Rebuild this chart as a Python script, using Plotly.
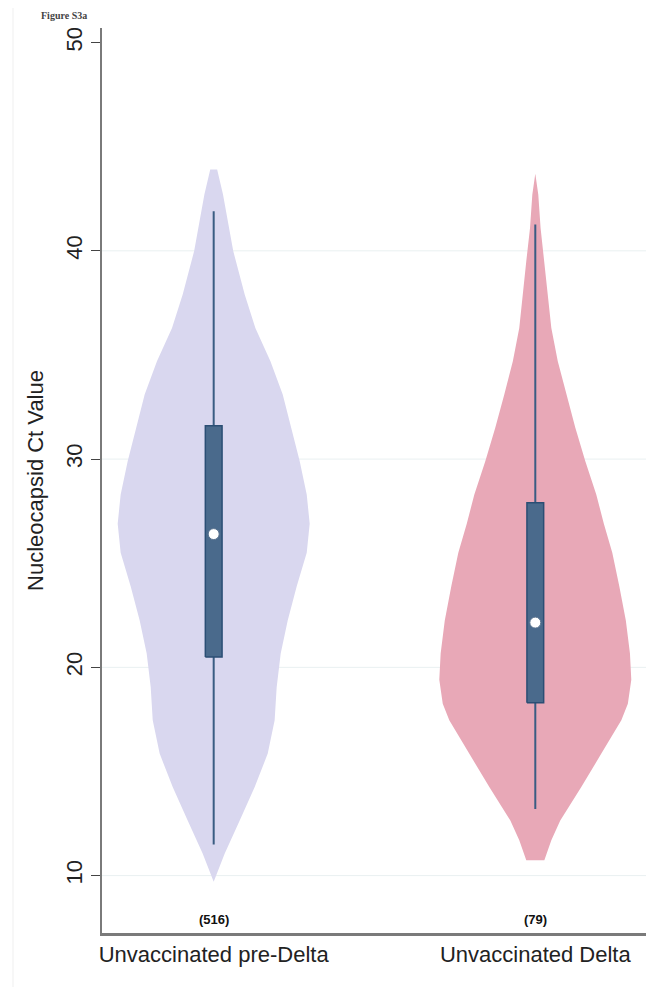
import plotly.graph_objects as go

# ---------------- data ----------------
categories = ["Unvaccinated pre-Delta", "Unvaccinated Delta"]
counts = ["(516)", "(79)"]

# violin outlines: Ct value levels and relative density (max = 1)
v1_y = [43.9, 42.7, 40.0, 37.9, 36.3, 34.7, 33.1, 31.5, 29.9, 28.3, 26.9, 25.5,
        23.9, 22.25, 20.66, 19.05, 17.46, 15.86, 14.25, 12.65, 11.06, 9.7]
v1_d = [0.036, 0.097, 0.203, 0.323, 0.434, 0.591, 0.719, 0.807, 0.896, 0.969, 1.0, 0.969,
        0.865, 0.771, 0.698, 0.656, 0.635, 0.563, 0.427, 0.271, 0.115, 0.0]

v2_y = [43.7, 42.7, 41.1, 39.5, 37.9, 36.3, 34.7, 33.1, 31.5, 29.9, 28.3, 26.9, 25.5,
        23.9, 22.25, 20.66, 19.4, 18.25, 17.46, 15.86, 14.25, 12.65, 11.7, 10.74]
v2_d = [0.0, 0.031, 0.055, 0.094, 0.133, 0.167, 0.234, 0.323, 0.417, 0.521, 0.635, 0.714, 0.802,
        0.875, 0.943, 0.986, 1.0, 0.964, 0.896, 0.688, 0.479, 0.260, 0.167, 0.094]

# box summaries: lower whisker, q1, median, q3, upper whisker
lower_whisker = [11.5, 13.2]
q1 = [20.5, 18.3]
median = [26.4, 22.15]
q3 = [31.6, 27.9]
upper_whisker = [41.9, 41.27]

y_ticks = [10, 20, 30, 40, 50]
grid_values = [10, 20, 30, 40]

# ---------------- style ----------------
VIOLIN_HALF_WIDTH = 0.2985
BOX_HALF_WIDTH = 0.026
violin_colors = ["#d9d7ef", "#e8a8b7"]
box_fill = "#4a6a8c"
box_line = "#2b4e74"
FONT = "Liberation Sans, Arial, sans-serif"

fig = go.Figure()

violins = [(v1_y, v1_d), (v2_y, v2_d)]
for i, (ys, ds) in enumerate(violins):
    xr = [i + d * VIOLIN_HALF_WIDTH for d in ds]
    xl = [i - d * VIOLIN_HALF_WIDTH for d in ds]
    fig.add_trace(go.Scatter(
        x=xr + xl[::-1], y=ys + ys[::-1], fill="toself", mode="lines",
        line=dict(width=0, color=violin_colors[i]), fillcolor=violin_colors[i],
        hoverinfo="skip", showlegend=False))

for i in range(len(categories)):
    # whisker
    fig.add_trace(go.Scatter(
        x=[i, i], y=[lower_whisker[i], upper_whisker[i]], mode="lines",
        line=dict(color="#3a5c82", width=2), showlegend=False, hoverinfo="skip"))
    # box
    fig.add_trace(go.Scatter(
        x=[i - BOX_HALF_WIDTH, i + BOX_HALF_WIDTH, i + BOX_HALF_WIDTH, i - BOX_HALF_WIDTH, i - BOX_HALF_WIDTH],
        y=[q1[i], q1[i], q3[i], q3[i], q1[i]], mode="lines", fill="toself",
        fillcolor=box_fill, line=dict(color=box_line, width=1.5),
        showlegend=False, hoverinfo="skip"))
    # median
    fig.add_trace(go.Scatter(
        x=[i], y=[median[i]], mode="markers",
        marker=dict(color="white", size=11, line=dict(color="#5a7390", width=1)),
        showlegend=False, hoverinfo="skip"))

# count annotations
for i, c in enumerate(counts):
    fig.add_annotation(x=i, y=7.9, text="<b>" + c + "</b>", showarrow=False,
                       font=dict(family=FONT, size=13, color="#111111"))

# gridlines
for g in grid_values:
    fig.add_shape(type="line", xref="paper", x0=0, x1=1, yref="y", y0=g, y1=g,
                  line=dict(color="#e9f0f1", width=1), layer="below")

# faint outer frame
fig.add_shape(type="rect", xref="paper", yref="paper",
              x0=-0.1636, x1=1.2, y0=-0.2, y1=1.0254,
              line=dict(color="#efefef", width=1), layer="below")

# caption at very top (cropped in the source)
fig.add_annotation(xref="paper", yref="paper", x=-0.115, y=1.0225, xanchor="left", yanchor="top",
                   text="<b>Figure S3a</b>", showarrow=False,
                   font=dict(family="Liberation Serif, Times New Roman, serif", size=10, color="#444"))

fig.update_layout(
    width=662, height=987,
    margin=dict(l=94, r=24, t=20, b=62),
    paper_bgcolor="white", plot_bgcolor="white",
    font=dict(family=FONT, color="#222222"),
    xaxis=dict(range=[-0.3473, 1.3442], tickmode="array", tickvals=[0, 1], ticktext=categories,
               showgrid=False, zeroline=False, showline=True, linecolor="#7a7a7a", linewidth=2.5,
               ticks="", tickfont=dict(size=22, family=FONT, color="#222222"), fixedrange=True),
    yaxis=dict(range=[7.245, 50.7], tickmode="array", tickvals=y_ticks, tickangle=-90,
               showgrid=False, zeroline=False, showline=True, linecolor="#7a7a7a", linewidth=2,
               ticks="outside", ticklen=9, tickcolor="#444444", tickwidth=1.2,
               tickfont=dict(size=22, family=FONT, color="#222222"),
               title=dict(text="Nucleocapsid Ct Value", font=dict(size=22, family=FONT, color="#222222"),
                          standoff=13)),
)

fig.write_html("out.html")
